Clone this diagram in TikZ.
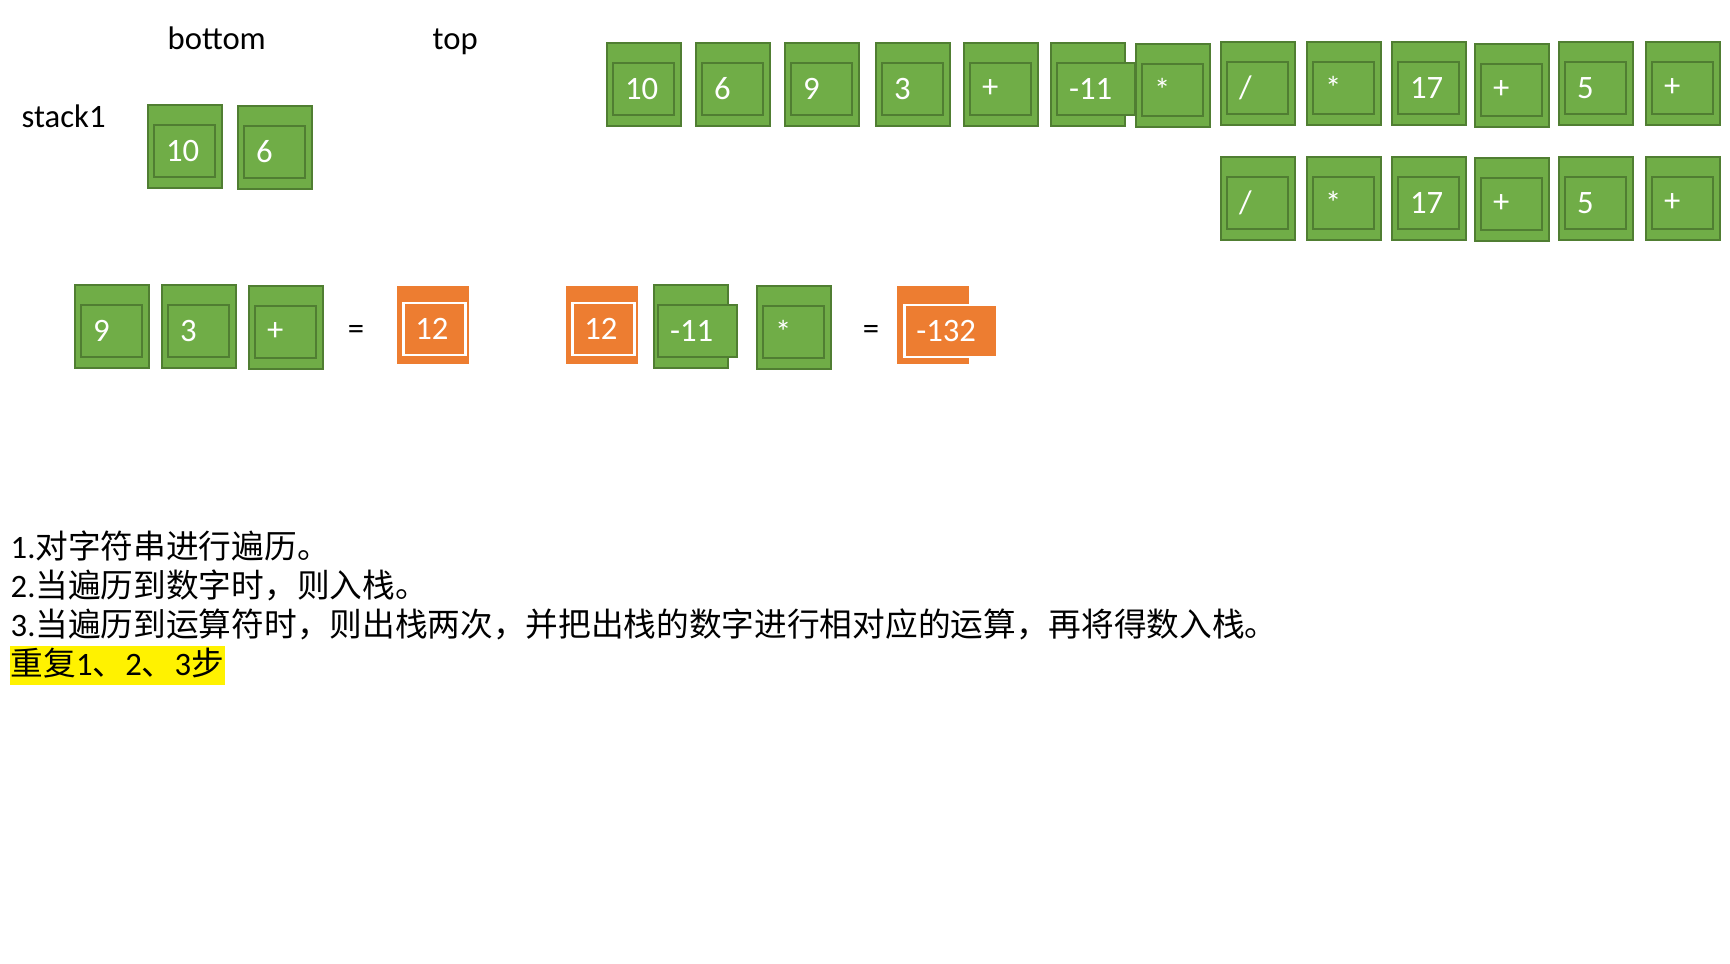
\documentclass[tikz,border=0pt]{standalone}
\usepackage{fontspec}
\setmainfont{Carlito}
\newfontfamily\cjk{Noto Sans CJK SC}
\definecolor{cellgreen}{HTML}{70AD47}
\definecolor{celledge}{HTML}{507E32}
\definecolor{cellorange}{HTML}{ED7D31}
\tikzset{
  every node/.style={font=\fontsize{9.3}{11}\selectfont},
  txt/.style={anchor=base west, inner sep=0pt},
  gout/.style={anchor=north west, draw=celledge, fill=cellgreen, line width=0.2mm,
    minimum width=7.4mm, minimum height=8.3mm, inner sep=0pt},
  gin/.style={anchor=north west, draw=celledge, fill=cellgreen, line width=0.2mm,
    text=white, align=left, text width=#1, inner xsep=1.2mm, inner ysep=0pt,
    minimum height=5.2mm},
  gin/.default=3.7mm,
  oout/.style={anchor=north west, fill=cellorange, minimum width=7.2mm,
    minimum height=7.8mm, inner sep=0pt},
  oin/.style={anchor=north west, draw=white, fill=cellorange, line width=0.25mm,
    text=white, align=left, text width=#1, inner xsep=1.2mm, inner ysep=0pt,
    minimum height=5.2mm},
  oin/.default=3.8mm
}
\begin{document}
\begin{tikzpicture}[x=0.1mm, y=-0.1mm]
  \fill[white] (0,0) rectangle (1730,964);
  \node[txt] (bottom) at (167,50) {bottom};
  \node[txt] (top) at (432,50) {top};
  \node[txt] (stack) at (21,128) {stack1};
  % stack1
  \foreach \x/\y/\t [count=\i] in {147/104/10, 237/105/6} {
    \node[gout] (s\i) at (\x,\y) {};
    \node[gin] (st\i) at ([shift={(6,20)}]s\i.north west) {\t};
  }
  % input, first row
  \foreach \x/\y/\w/\t [count=\i] in {606/42/3.7mm/10, 695/42/3.7mm/6, 784/42/3.7mm/9,
      875/42/3.7mm/3, 963/42/3.7mm/+, 1050/42/5.4mm/-11, 1135/43/3.7mm/*,
      1220/41/3.7mm/{/}, 1306/41/3.7mm/*, 1391/41/3.7mm/17, 1474/43/3.7mm/+,
      1558/41/3.7mm/5, 1645/41/3.7mm/+} {
    \node[gout] (c\i) at (\x,\y) {};
    \node[gin=\w] (ct\i) at ([shift={(6,20)}]c\i.north west) {\t};
  }
  % what is left of the input
  \foreach \x/\y/\t [count=\i] in {1220/156/{/}, 1306/156/*, 1391/156/17,
      1474/157/+, 1558/156/5, 1645/156/+} {
    \node[gout] (d\i) at (\x,\y) {};
    \node[gin] (dt\i) at ([shift={(6,20)}]d\i.north west) {\t};
  }
  % 9 3 + = 12
  \foreach \x/\y/\t [count=\i] in {74/284/9, 161/284/3, 248/285/+} {
    \node[gout] (p\i) at (\x,\y) {};
    \node[gin] (pt\i) at ([shift={(6,20)}]p\i.north west) {\t};
  }
  \node (eqa) at (356,332) {=};
  \node[oout] (ra) at (396,285) {};
  \node[oin] (rat) at ([shift={(6,17)}]ra.north west) {12};
  % 12 -11 * = -132
  \node[oout] (rb) at (565,285) {};
  \node[oin] (rbt) at ([shift={(6,17)}]rb.north west) {12};
  \node[gout] (q1) at (653,284) {};
  \node[gin=5.5mm] (qt1) at ([shift={(4,20)}]q1.north west) {-11};
  \node[gout] (q2) at (756,285) {};
  \node[gin] (qt2) at ([shift={(6,20)}]q2.north west) {*};
  \node (eqb) at (871,332) {=};
  \node[oout] (rc) at (896,285) {};
  \node[oin=6.9mm] (rct) at ([shift={(7,19)}]rc.north west) {-132};
  % steps
  \node[txt] (l1) at (10,559) {1.{\cjk 对字符串进行遍历。}};
  \node[txt] (l2) at (10,598) {2.{\cjk 当遍历到数字时，则入栈。}};
  \node[txt] (l3) at (10,637) {3.{\cjk 当遍历到运算符时，则出栈两次，并把出栈的数字进行相对应的运算，再将得数入栈。}};
  \node[txt, fill=yellow, inner xsep=0.1mm, text height=3mm, text depth=0.9mm] (l4) at (9,676)
    {{\cjk 重复}1{\cjk 、}2{\cjk 、}3{\cjk 步}};
\end{tikzpicture}
\end{document}
